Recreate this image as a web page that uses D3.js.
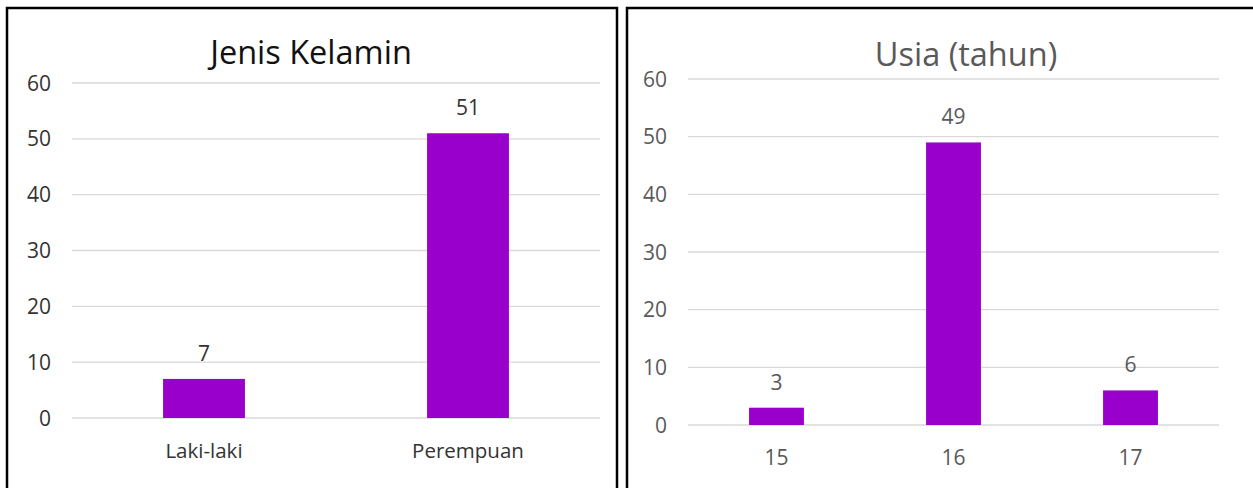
<!DOCTYPE html>
<html>
<head>
<meta charset="utf-8">
<script src="https://cdn.jsdelivr.net/npm/d3@7"></script>
<style>
  body { margin: 0; background: #fff; }
  svg { display: block; }
  text { font-family: "Open Sans", "Noto Sans", sans-serif; }
</style>
</head>
<body>
<svg id="chart" width="1253" height="488"></svg>
<script>
// data
const genderCats = ["Laki-laki", "Perempuan"];
const genderVals = [7, 51];
const ageCats = ["15", "16", "17"];
const ageVals = [3, 49, 6];
const yTicks = [0, 10, 20, 30, 40, 50, 60];

const barColor = "#9900cc";
const svg = d3.select("#chart");

function drawPanel(opt) {
    // panel frame
    svg.append("rect")
        .attr("x", opt.frame[0]).attr("y", opt.frame[1])
        .attr("width", opt.frame[2]).attr("height", opt.frame[3])
        .attr("fill", "none").attr("stroke", "#000").attr("stroke-width", 2.5);

    const x = d3.scaleBand().domain(opt.cats).range([opt.left, opt.right]).paddingInner(0.69).paddingOuter(0.345);
    const y = d3.scaleLinear().domain([0, 60]).range([opt.bottom, opt.top]);

    const g = svg.append("g");

    // gridlines
    g.selectAll(".grid").data(yTicks).enter().append("line")
        .attr("x1", opt.left).attr("x2", opt.right)
        .attr("y1", d => y(d)).attr("y2", d => y(d))
        .attr("stroke", "#d9d9d9").attr("stroke-width", 1.3);

    // y labels
    g.selectAll(".ylab").data(yTicks).enter().append("text")
        .attr("x", opt.ylabX).attr("y", d => y(d) + 7.5)
        .attr("text-anchor", "end")
        .attr("font-size", 21).attr("fill", opt.textColor)
        .text(d => d);

    // bars
    g.selectAll(".bar").data(opt.vals).enter().append("rect")
        .attr("x", (d, i) => x(opt.cats[i]))
        .attr("y", d => y(d))
        .attr("width", x.bandwidth())
        .attr("height", d => y(0) - y(d))
        .attr("fill", barColor);

    // value labels
    g.selectAll(".val").data(opt.vals).enter().append("text")
        .attr("x", (d, i) => x(opt.cats[i]) + x.bandwidth() / 2)
        .attr("y", d => y(d) - 18)
        .attr("text-anchor", "middle")
        .attr("font-size", 21).attr("fill", opt.textColor)
        .text(d => d);

    // category labels
    g.selectAll(".cat").data(opt.cats).enter().append("text")
        .attr("x", d => x(d) + x.bandwidth() / 2)
        .attr("y", opt.catY)
        .attr("text-anchor", "middle")
        .attr("font-size", opt.catSize).attr("fill", opt.textColor)
        .text(d => d);

    // title
    svg.append("text")
        .attr("x", opt.titleX).attr("y", opt.titleY)
        .attr("text-anchor", "middle")
        .attr("font-size", 32.5).attr("fill", opt.titleColor)
        .text(opt.title);
}

drawPanel({
    frame: [7, 8, 610, 500],
    cats: genderCats, vals: genderVals,
    left: 72, right: 600, top: 83, bottom: 418,
    ylabX: 51, catY: 458, catSize: 20.5,
    textColor: "#333", titleColor: "#111",
    title: "Jenis Kelamin", titleX: 311, titleY: 64
});

drawPanel({
    frame: [627, 8, 700, 500],
    cats: ageCats, vals: ageVals,
    left: 688, right: 1219, top: 79, bottom: 425,
    ylabX: 667, catY: 465, catSize: 21,
    textColor: "#595959", titleColor: "#595959",
    title: "Usia (tahun)", titleX: 966, titleY: 66
});
</script>
</body>
</html>
